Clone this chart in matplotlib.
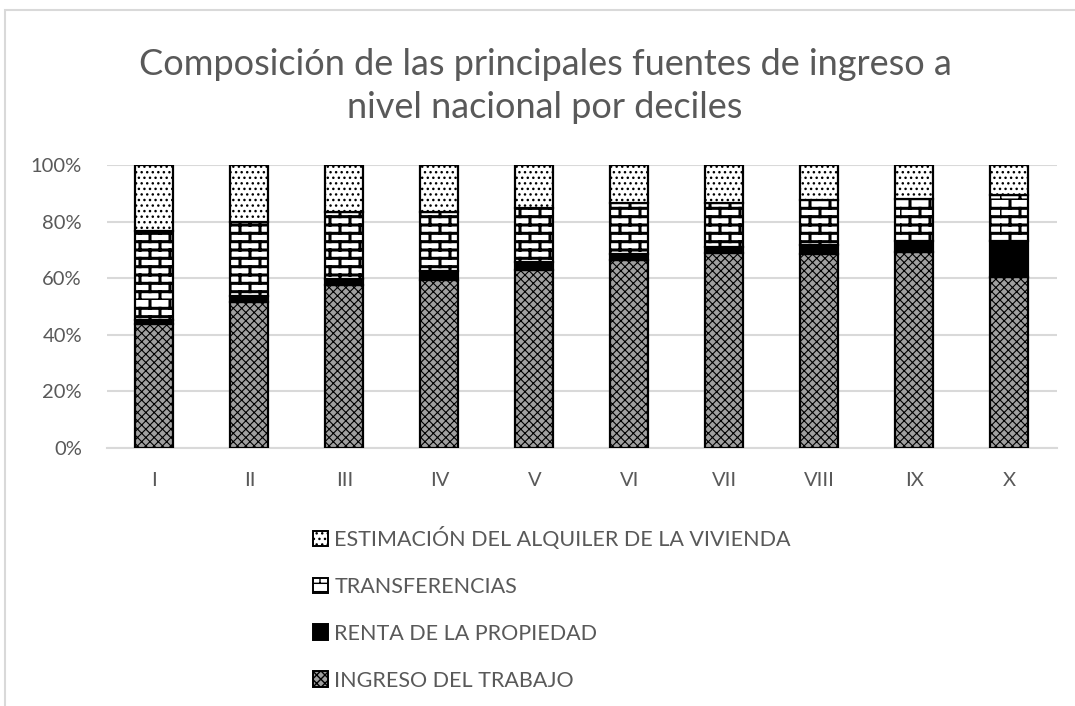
import warnings
import numpy as np
import matplotlib
matplotlib.use("Agg")
import matplotlib.pyplot as plt
import matplotlib.hatch as mhatch
from matplotlib.patches import Rectangle, Patch
from matplotlib.ticker import PercentFormatter

warnings.filterwarnings("ignore")

# data (percent of total income)
deciles = ["I", "II", "III", "IV", "V", "VI", "VII", "VIII", "IX", "X"]
trabajo = [43.8, 51.7, 57.6, 59.4, 63.1, 66.4, 69.0, 68.5, 69.4, 60.5]
renta = [1.4, 2.0, 2.1, 3.1, 2.7, 2.1, 2.1, 3.2, 3.7, 12.7]
transferencias = [31.5, 26.3, 23.6, 21.0, 18.9, 18.0, 15.7, 15.9, 14.8, 16.2]
alquiler = [23.3, 20.0, 16.7, 16.5, 15.3, 13.5, 13.2, 12.4, 12.1, 10.6]

labels = ["INGRESO DEL TRABAJO", "RENTA DE LA PROPIEDAD",
          "TRANSFERENCIAS", "ESTIMACIÓN DEL ALQUILER DE LA VIVIENDA"]


# brick hatch, triggered by the letter 'b'
class BrickHatch(mhatch.HatchPatternBase):
    def __init__(self, hatch, density):
        self.rows = hatch.count("b") * 12
        self.cols = 5
        # one horizontal line per row + joints per row
        self.num_lines = self.rows * (1 + self.cols)
        self.num_vertices = self.num_lines * 2

    def set_vertices_and_codes(self, vertices, codes):
        n = self.rows
        step = 1.0 / n
        segs = []
        for i in range(n):
            y0 = i * step
            segs.append(((0.0, y0), (1.0, y0)))
            off = 0.0 if i % 2 == 0 else 0.1
            for k in range(self.cols):
                xj = k * 0.2 + off
                segs.append(((xj, y0), (xj, y0 + step)))
        pts = np.array(segs).reshape(-1, 2)
        vertices[:] = pts
        codes[0::2] = 1  # MOVETO
        codes[1::2] = 2  # LINETO


mhatch._hatch_types.append(BrickHatch)

plt.rcParams["font.family"] = ["Lato", "DejaVu Sans"]

fig = plt.figure(figsize=(10.75, 7.06), dpi=100)
ax = fig.add_axes([0.0995, 0.3654, 0.8835, 0.4006])

x = np.arange(len(deciles))
w = 0.4
gray_txt = "#595959"

styles = [
    dict(facecolor="#a0a0a0", hatch="xxxx", hlw=0.8),
    dict(facecolor="black", hatch=None, hlw=1.0),
    dict(facecolor="white", hatch="b", hlw=2.2),
    dict(facecolor="white", hatch="...", hlw=1.0),
]
series = [trabajo, renta, transferencias, alquiler]

bottom = np.zeros(len(deciles))
handles = []
for vals, st, lab in zip(series, styles, labels):
    with plt.rc_context({"hatch.linewidth": st["hlw"], "hatch.color": "black"}):
        ax.bar(x, vals, w, bottom=bottom, facecolor=st["facecolor"],
               edgecolor="black", linewidth=1.6, hatch=st["hatch"], zorder=3)
        handles.append(Patch(facecolor=st["facecolor"], edgecolor="black",
                             linewidth=1.4, hatch=st["hatch"], label=lab))
    bottom += np.array(vals)

ax.set_xlim(-0.5, len(deciles) - 0.5)
ax.set_ylim(0, 100)
ax.set_yticks(np.arange(0, 101, 20))
ax.yaxis.set_major_formatter(PercentFormatter(decimals=0))
ax.set_xticks(x)
ax.set_xticklabels(deciles)
ax.grid(axis="y", color="#d9d9d9", linewidth=1.5, zorder=0)
for s in ["top", "right", "left"]:
    ax.spines[s].set_visible(False)
ax.spines["bottom"].set_color("#d9d9d9")
ax.spines["bottom"].set_linewidth(1.5)
ax.tick_params(axis="both", length=0, labelsize=14.5, labelcolor=gray_txt)
ax.tick_params(axis="y", pad=18)
ax.tick_params(axis="x", pad=17)

fig.text(0.507, 0.878, "Composición de las principales fuentes de ingreso a\nnivel nacional por deciles",
         ha="center", va="center", fontsize=26, color=gray_txt,
         linespacing=1.38)

with plt.rc_context({"hatch.linewidth": 1.0}):
    leg = fig.legend(handles=handles[::-1], loc="upper left",
                     bbox_to_anchor=(0.273, 0.281), frameon=False,
                     fontsize=15.5, labelcolor=gray_txt, handlelength=0.7,
                     handleheight=0.75, handletextpad=0.3, labelspacing=1.25)

# chart border
fig.patches.append(Rectangle((0.005, -0.01), 1.2, 0.996, transform=fig.transFigure,
                             fill=False, edgecolor="#d9d9d9", linewidth=1.5))

fig.savefig("out.png", dpi=100)
